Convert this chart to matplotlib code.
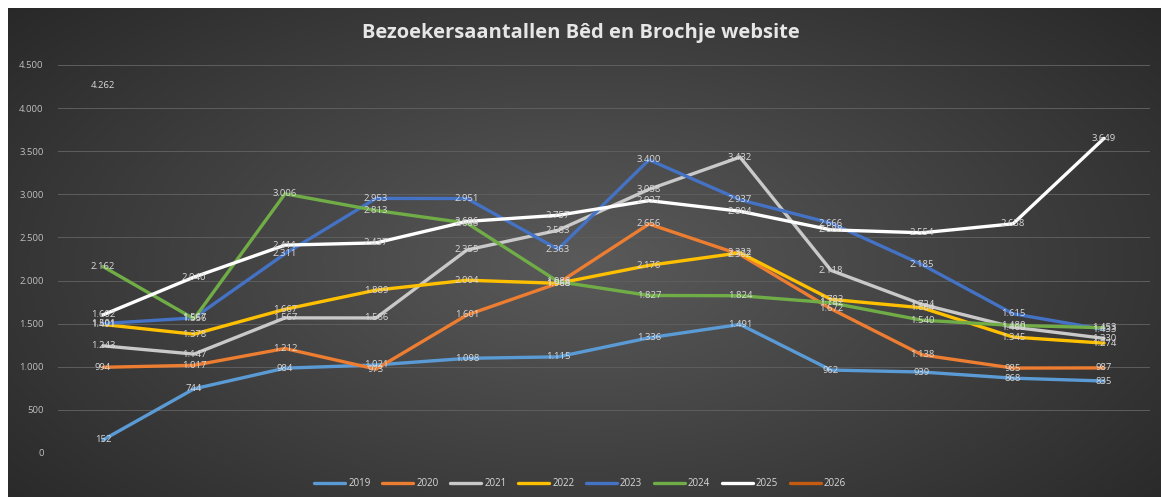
import numpy as np
import matplotlib
matplotlib.use("Agg")
import matplotlib.pyplot as plt
from matplotlib.ticker import FuncFormatter, MultipleLocator

plt.rcParams['font.family'] = ['Open Sans', 'DejaVu Sans']

months = ['jan', 'feb', 'mrt', 'apr', 'mei', 'jun', 'jul', 'aug', 'sep', 'okt', 'nov', 'dec']
years = ['2019', '2020', '2021', '2022', '2023', '2024', '2025', '2026']

v2019 = [152, 744, 984, 1021, 1098, 1115, 1336, 1491, 962, 939, 868, 835]
v2020 = [994, 1017, 1212, 973, 1601, 1968, 2656, 2302, 1672, 1138, 985, 987]
v2021 = [1243, 1147, 1567, 1566, 2355, 2583, 3058, 3432, 2118, 1724, 1460, 1330]
v2022 = [1491, 1378, 1667, 1889, 2004, 1968, 2176, 2322, 1782, 1684, 1345, 1274]
v2023 = [1501, 1567, 2311, 2953, 2951, 2363, 3400, 2937, 2666, 2185, 1615, 1433]
v2024 = [2162, 1556, 3006, 2813, 2666, 1988, 1827, 1824, 1742, 1540, 1480, 1453]
v2025 = [1602, 2040, 2411, 2437, 2686, 2757, 2927, 2804, 2588, 2554, 2658, 3649]
v2026 = [4262]

series = [v2019, v2020, v2021, v2022, v2023, v2024, v2025, v2026]
colors = ['#5B9BD5', '#ED7D31', '#C9C9C9', '#FFC000', '#4472C4', '#70AD47', '#FFFFFF', '#C55A11']

W, H = 1161, 497
fig = plt.figure(figsize=(W / 100, H / 100), dpi=100, facecolor='white')

# background with radial gradient
bg = fig.add_axes([8 / W, 0, 1 - 8 / W, 1 - 8 / H])
bg.set_axis_off()
yy, xx = np.mgrid[0:1:300j, 0:1:700j]
d = np.sqrt(((xx - 0.5) / 0.75) ** 2 + ((yy - 0.52) / 0.9) ** 2)
g = np.clip(1 - d, 0, 1)
lo = np.array([0x22, 0x22, 0x22]) / 255
hi = np.array([0x5A, 0x5A, 0x5A]) / 255
img = lo + (hi - lo) * g[..., None] ** 1.0
bg.imshow(img, aspect='auto', extent=[0, 1, 0, 1], interpolation='bilinear')
bg.set_xlim(0, 1)
bg.set_ylim(0, 1)

ax = fig.add_axes([57.5 / W, (H - 453) / H, (1149.5 - 57.5) / W, (453 - 65) / H])
ax.patch.set_alpha(0)
x = np.arange(len(months))
for yr, vals, c in zip(years, series, colors):
    ax.plot(x[:len(vals)], vals, color=c, lw=2.4, label=yr, solid_capstyle='round', zorder=2)

for vals in series:
    for xi, v in zip(x, vals):
        s = f"{v:,}".replace(',', '.')
        ax.text(xi, v, s, ha='center', va='center', fontsize=6.8, color='#D9D9D9', zorder=5)

ax.set_xlim(-0.5, 11.5)
ax.set_ylim(0, 4500)
ax.yaxis.set_major_locator(MultipleLocator(500))
ax.yaxis.set_major_formatter(FuncFormatter(lambda v, p: f"{int(v):,}".replace(',', '.')))
ax.grid(axis='y', color='#5E5E5E', lw=0.7, zorder=0)
ax.set_xticks([])
ax.tick_params(axis='y', length=0, labelsize=6.8, labelcolor='#BFBFBF', pad=10)
for sp in ax.spines.values():
    sp.set_visible(False)

fig.text(0.5, 1 - 33 / H, 'Bezoekersaantallen Bêd en Brochje website', ha='center', va='center',
         fontsize=14.5, fontweight='bold', color='#E6E6E6')

leg = fig.legend(loc='center', bbox_to_anchor=(580 / W, 1 - 484 / H), ncol=8, frameon=False,
                 fontsize=7, handlelength=3.2, handletextpad=0.3, columnspacing=1.2,
                 labelcolor='#D9D9D9')
for l in leg.get_lines():
    l.set_linewidth(2.4)

fig.savefig('out.png', dpi=100, facecolor='white')
